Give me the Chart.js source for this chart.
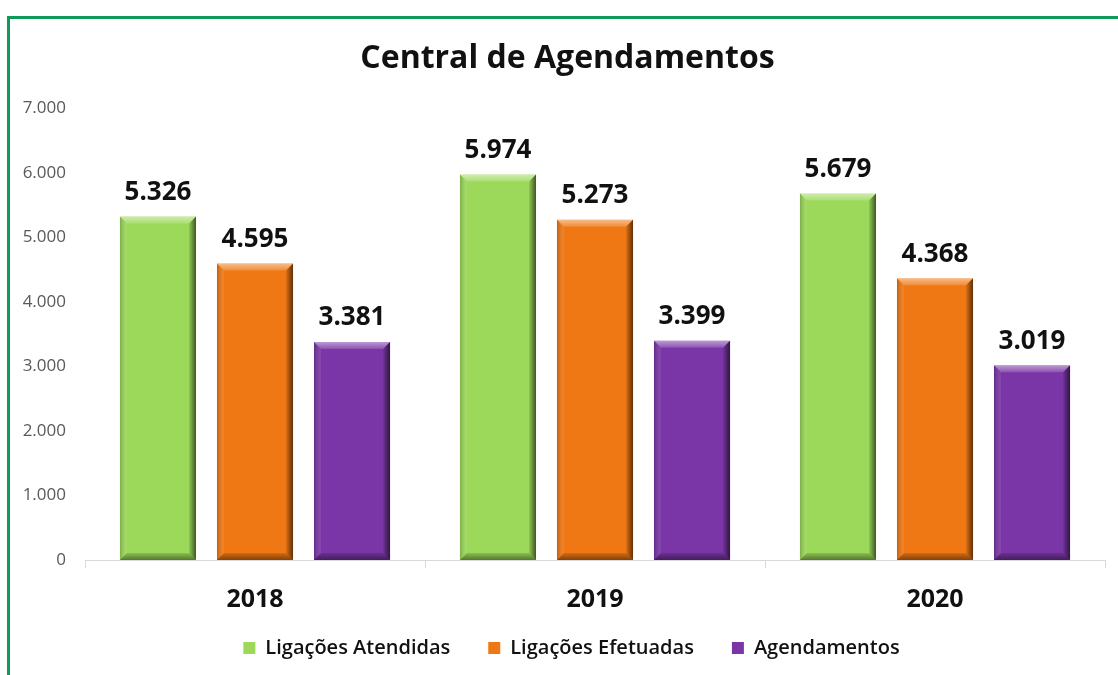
<!DOCTYPE html>
<html>
<head>
<meta charset="utf-8">
<script src="https://cdn.jsdelivr.net/npm/chart.js@4.4.1/dist/chart.umd.min.js"></script>
<style>
  html, body { margin: 0; padding: 0; background: #ffffff; overflow: hidden; }
  #wrap { position: relative; width: 1118px; height: 675px; }
  #frame { position: absolute; left: 7px; top: 16px; width: 1300px; height: 800px;
           border-top: 3px solid #11995a; border-left: 3px solid #11995a; pointer-events: none; }
  canvas { position: absolute; left: 0; top: 0; }
</style>
</head>
<body>
<div id="wrap">
  <canvas id="c" width="1118" height="675"></canvas>
  <div id="frame"></div>
</div>
<script>
const categories = ['2018', '2019', '2020'];
const ligacoesAtendidas = [5326, 5974, 5679];
const ligacoesEfetuadas = [4595, 5273, 4368];
const agendamentos = [3381, 3399, 3019];
const seriesNames = ['Ligações Atendidas', 'Ligações Efetuadas', 'Agendamentos'];
const seriesColors = ['#9cd95a', '#f07814', '#7a36a6'];
const yMin = 0, yMax = 7000, yStep = 1000;

const FONT = '"Open Sans", Lato, "Liberation Sans", sans-serif';
const LEGEND_H = 61;
const LEGEND_DY = -14;
const LEGEND_DX = 8;
const TITLE_DX = 4;

function fmt(v) {
  return String(Math.round(v)).replace(/\B(?=(\d{3})+(?!\d))/g, '.');
}

const bevelPlugin = {
  id: 'bevel',
  afterDatasetsDraw(chart) {
    const ctx = chart.ctx;
    chart.data.datasets.forEach((ds, i) => {
      const meta = chart.getDatasetMeta(i);
      meta.data.forEach(bar => {
        const l = bar.x - bar.width / 2, r = bar.x + bar.width / 2;
        const t = bar.y, b = bar.base;
        const s = 7;
        ctx.save();
        let g = ctx.createLinearGradient(0, t, 0, t + s);
        g.addColorStop(0, 'rgba(255,255,255,0.5)');
        g.addColorStop(1, 'rgba(255,255,255,0.15)');
        ctx.fillStyle = g;
        ctx.beginPath();
        ctx.moveTo(l, t); ctx.lineTo(r, t); ctx.lineTo(r - s, t + s); ctx.lineTo(l + s, t + s); ctx.closePath();
        ctx.fill();
        g = ctx.createLinearGradient(l, 0, l + s, 0);
        g.addColorStop(0, 'rgba(0,0,0,0.2)');
        g.addColorStop(1, 'rgba(255,255,255,0.08)');
        ctx.fillStyle = g;
        ctx.beginPath();
        ctx.moveTo(l, t); ctx.lineTo(l + s, t + s); ctx.lineTo(l + s, b - s); ctx.lineTo(l, b); ctx.closePath();
        ctx.fill();
        g = ctx.createLinearGradient(r - s, 0, r, 0);
        g.addColorStop(0, 'rgba(0,0,0,0.08)');
        g.addColorStop(1, 'rgba(0,0,0,0.6)');
        ctx.fillStyle = g;
        ctx.beginPath();
        ctx.moveTo(r, t); ctx.lineTo(r - s, t + s); ctx.lineTo(r - s, b - s); ctx.lineTo(r, b); ctx.closePath();
        ctx.fill();
        g = ctx.createLinearGradient(0, b - s, 0, b);
        g.addColorStop(0, 'rgba(0,0,0,0.12)');
        g.addColorStop(1, 'rgba(0,0,0,0.45)');
        ctx.fillStyle = g;
        ctx.beginPath();
        ctx.moveTo(l, b); ctx.lineTo(l + s, b - s); ctx.lineTo(r - s, b - s); ctx.lineTo(r, b); ctx.closePath();
        ctx.fill();
        ctx.restore();
      });
    });
  }
};

const valueLabels = {
  id: 'valueLabels',
  afterDatasetsDraw(chart) {
    const ctx = chart.ctx;
    ctx.save();
    ctx.font = 'bold 26px ' + FONT;
    ctx.fillStyle = '#111111';
    ctx.textAlign = 'center';
    ctx.textBaseline = 'middle';
    chart.data.datasets.forEach((ds, i) => {
      const meta = chart.getDatasetMeta(i);
      meta.data.forEach((bar, j) => {
        ctx.fillText(fmt(ds.data[j]), bar.x, bar.y - 24);
      });
    });
    ctx.restore();
  }
};

function nudgeDraw(box, dx, dy) {
  const origDraw = box.draw.bind(box);
  box.draw = function (a) { const c = this.ctx; c.save(); c.translate(dx, dy); origDraw(a); c.restore(); };
}

const boxNudge = {
  id: 'boxNudge',
  afterInit(chart) {
    const lg = chart.legend;
    if (lg) {
      const origFit = lg.fit.bind(lg);
      lg.fit = function () { origFit(); this.height = LEGEND_H; };
      nudgeDraw(lg, LEGEND_DX, LEGEND_DY);
    }
    if (chart.titleBlock) nudgeDraw(chart.titleBlock, TITLE_DX, 0);
  }
};

new Chart(document.getElementById('c'), {
  type: 'bar',
  data: {
    labels: categories,
    datasets: [
      { label: seriesNames[0], data: ligacoesAtendidas, backgroundColor: seriesColors[0] },
      { label: seriesNames[1], data: ligacoesEfetuadas, backgroundColor: seriesColors[1] },
      { label: seriesNames[2], data: agendamentos, backgroundColor: seriesColors[2] }
    ]
  },
  options: {
    responsive: false,
    animation: false,
    devicePixelRatio: 1,
    categoryPercentage: 0.856,
    barPercentage: 0.784,
    layout: { padding: { left: 22, right: 13, top: 0, bottom: 0 } },
    plugins: {
      tooltip: { enabled: false },
      title: {
        display: true,
        text: 'Central de Agendamentos',
        color: '#111111',
        font: { family: FONT, size: 32, weight: 'bold' },
        padding: { top: 40, bottom: 30 }
      },
      legend: {
        position: 'bottom',
        labels: {
          color: '#111111',
          font: { family: FONT, size: 20, weight: '600' },
          boxWidth: 12, boxHeight: 12,
          padding: 38
        }
      }
    },
    scales: {
      x: {
        grid: { display: true, drawOnChartArea: false, drawTicks: true, tickLength: 8, color: '#d9d9d9', offset: true },
        border: { display: true, color: '#d9d9d9' },
        ticks: { color: '#111111', font: { family: FONT, size: 25, weight: 'bold', lineHeight: 1.1 }, padding: 18 },
        afterFit(scale) { scale.height = 54; }
      },
      y: {
        min: yMin, max: yMax,
        grid: { display: false },
        border: { display: false },
        ticks: { stepSize: yStep, color: '#595959', font: { family: FONT, size: 17 }, padding: 11,
                 callback: v => fmt(v) },
        afterFit(scale) { scale.width = 63; }
      }
    }
  },
  plugins: [bevelPlugin, valueLabels, boxNudge]
});
</script>
</body>
</html>
